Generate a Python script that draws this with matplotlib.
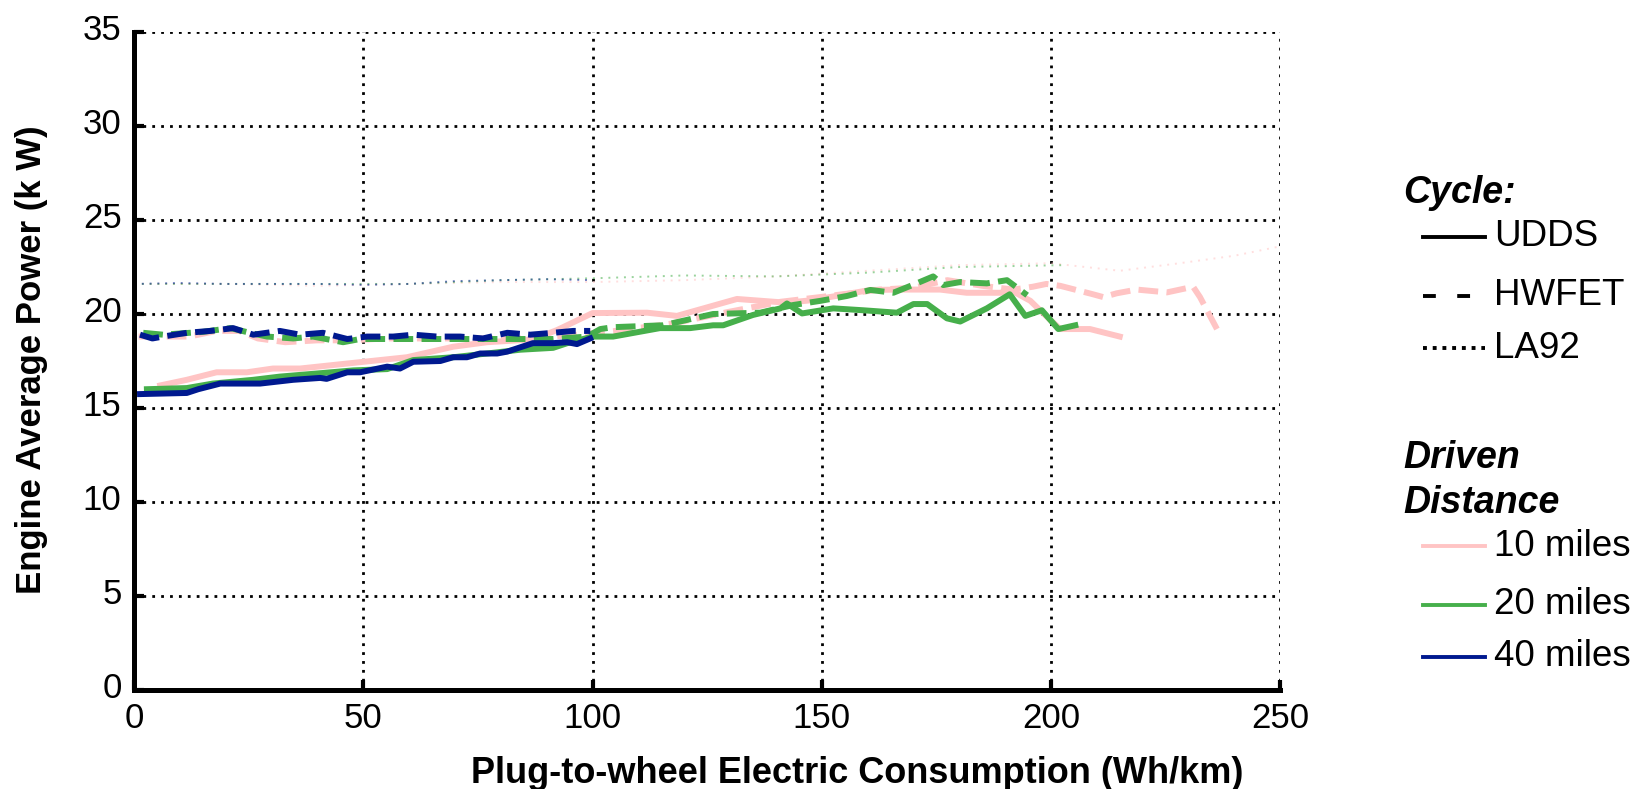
import matplotlib
matplotlib.use("Agg")
import matplotlib.pyplot as plt
import matplotlib.transforms as mtransforms
from matplotlib.lines import Line2D

plt.rcParams["font.family"] = ["Liberation Sans", "DejaVu Sans"]

# colours for driven distance
c10 = "#FFC4C4"
c20 = "#46AF4B"
c40 = "#00198F"

# 10 miles
udds10_x = [5.7, 11.5, 18, 24.6, 30.3, 36.2, 47.8, 59.5, 69.6, 77, 87, 92.3, 100, 111.9, 118.4,
            131.5, 142.4, 148, 160.6, 167.1, 175.8, 181.6, 189, 191, 195.5, 197.6, 202, 208.5, 215]
udds10_y = [16.2, 16.5, 16.9, 16.9, 17.1, 17.1, 17.4, 17.7, 18.26, 18.5, 18.65, 19.15, 20.05, 20.07, 19.9,
            20.8, 20.6, 20.74, 21.28, 21.3, 21.3, 21.13, 21.13, 21.3, 20.7, 20.2, 19.2, 19.2, 18.8]
hwfet10_x = [1, 12, 18, 23, 27, 33, 40, 47, 55, 65, 75, 85, 97, 105, 117.6, 129.4, 141, 150.3, 162.7,
             170, 177.4, 185, 191.8, 196, 199, 202, 209, 211.4, 214.3, 218.7, 225.3, 231, 232.5, 236.2]
hwfet10_y = [18.8, 18.8, 19.1, 19.1, 18.7, 18.5, 18.6, 18.6, 18.7, 18.7, 18.7, 18.7, 18.9, 19.1, 19.5,
             20.1, 20.65, 20.92, 21.3, 21.4, 21.8, 21.5, 21.3, 21.45, 21.6, 21.5, 21.06, 20.9, 21.1, 21.3,
             21.15, 21.45, 20.9, 19.2]
la92_10_x = [0, 20, 40, 60, 80, 100, 120, 140, 160, 180, 200, 215, 228, 240, 250]
la92_10_y = [21.6, 21.6, 21.5, 21.6, 21.7, 21.7, 21.8, 22.0, 22.3, 22.6, 22.7, 22.3, 22.7, 23.1, 23.6]

# 20 miles
udds20_x = [2.8, 11.5, 17.2, 26, 31.8, 40.6, 47.8, 55.2, 60.9, 69.6, 77, 84.2, 91.4, 94.5, 100, 104.5,
            114.7, 121.3, 126.3, 128.5, 135, 141, 142.4, 145.7, 152.5, 159, 166.4, 170, 173, 177.3,
            180.2, 186, 191, 194.4, 198, 201.6, 205.3]
udds20_y = [16.0, 16.06, 16.3, 16.5, 16.67, 16.85, 17.0, 17.07, 17.55, 17.7, 17.9, 18.1, 18.2, 18.45, 18.8,
            18.8, 19.25, 19.25, 19.4, 19.4, 19.95, 20.3, 20.56, 20.03, 20.3, 20.2, 20.07, 20.53, 20.53,
            19.77, 19.6, 20.3, 21.05, 19.9, 20.2, 19.2, 19.4]
hwfet20_x = [2, 6.3, 15, 21, 25.3, 29, 34.7, 39, 45.6, 49.3, 62.4, 77, 91.4, 98.8, 101.7, 104.5, 115.4,
             126.3, 136.6, 143.8, 149.7, 155.5, 160.6, 165.6, 170.7, 174.3, 176.5, 180.2, 186, 190.4, 194.8]
hwfet20_y = [19.0, 18.9, 19.05, 19.25, 19.0, 18.8, 18.7, 18.8, 18.5, 18.67, 18.67, 18.67, 18.67, 18.8, 19.2,
             19.3, 19.4, 20.0, 20.07, 20.48, 20.7, 20.96, 21.28, 21.13, 21.63, 22.0, 21.54, 21.7, 21.63,
             21.8, 21.0]
la92_20_x = [0, 20, 40, 60, 80, 100, 120, 140, 160, 180, 203]
la92_20_y = [21.6, 21.6, 21.6, 21.6, 21.8, 21.9, 22.05, 22.0, 22.2, 22.5, 22.6]

# 40 miles
udds40_x = [1.3, 11.5, 14, 18.8, 27.5, 34.7, 40.6, 42, 46.5, 49.3, 55.2, 58, 60.9, 66.8, 69.6, 72.6,
            75.5, 79.2, 81.4, 87, 91.4, 94.5, 96.6, 99.5]
udds40_y = [15.74, 15.8, 16.0, 16.3, 16.3, 16.5, 16.6, 16.55, 16.9, 16.9, 17.2, 17.1, 17.46, 17.5, 17.7,
            17.7, 17.9, 17.9, 18.0, 18.45, 18.45, 18.5, 18.4, 18.7]
hwfet40_x = [1.3, 4, 6.3, 11.5, 16.6, 21.6, 26, 31.8, 36.2, 41.2, 46.5, 50.8, 56.5, 60.9, 66.1, 71.1,
             76.1, 81.4, 86.4, 91.4, 95.8, 99.5]
hwfet40_y = [18.9, 18.7, 18.8, 19.0, 19.1, 19.25, 18.9, 19.1, 18.9, 19.0, 18.67, 18.8, 18.8, 18.9, 18.8,
             18.8, 18.7, 19.0, 18.9, 19.0, 19.1, 19.1]
la92_40_x = [0, 10, 20, 30, 40, 50, 60, 70, 80, 90, 100]
la92_40_y = [21.6, 21.65, 21.6, 21.6, 21.6, 21.55, 21.6, 21.75, 21.8, 21.85, 21.8]

fig = plt.figure(figsize=(16.39, 7.89), dpi=100)
ax = fig.add_axes([0.0818, 0.1255, 0.6993, 0.8339])

lw = 4.3
dash = (0, (3.3, 1.4))
dot = (0, (1, 3))
for c, ux, uy, hx, hy, lx, ly in [
    (c10, udds10_x, udds10_y, hwfet10_x, hwfet10_y, la92_10_x, la92_10_y),
    (c20, udds20_x, udds20_y, hwfet20_x, hwfet20_y, la92_20_x, la92_20_y),
    (c40, udds40_x, udds40_y, hwfet40_x, hwfet40_y, la92_40_x, la92_40_y),
]:
    ax.plot(lx, ly, color=c, lw=1.4, ls=dot, alpha=0.55)
    ax.plot(ux, uy, color=c, lw=lw)
    ax.plot(hx, hy, color=c, lw=lw, ls=dash)

ax.set_xlim(0, 250)
ax.set_ylim(0, 35)
ax.set_xticks(range(0, 251, 50))
ax.set_yticks(range(0, 36, 5))
ax.grid(True, color="black", ls=(0, (1, 2.2)), lw=2.0)
ax.set_axisbelow(True)
for s in ["top", "right"]:
    ax.spines[s].set_visible(False)
for s in ["left", "bottom"]:
    ax.spines[s].set_linewidth(3.6)
ax.tick_params(direction="in", length=7, width=3, pad=9)
for t in ax.get_xticklabels():
    t.set_fontsize(25)
shift = mtransforms.ScaledTranslation(0, 0.05, fig.dpi_scale_trans)
for t in ax.get_yticklabels():
    t.set_fontsize(25)
    t.set_transform(t.get_transform() + shift)

ax.set_xlabel("Plug-to-wheel Electric Consumption (Wh/km)", fontsize=26, fontweight="bold")
ax.xaxis.set_label_coords(0.631, -0.100)
ax.set_ylabel("Engine Average Power (k W)", fontsize=25, fontweight="bold")
ax.yaxis.set_label_coords(-0.075, 0.5015)

# legend drawn by hand on the right
W, H = 1639.0, 789.0
def fx(px):
    return px / W
def fy(py):
    return 1 - py / H

fig.text(fx(1403), fy(203), "Cycle:", fontsize=27, fontweight="bold", style="italic", va="baseline")
cyc = [("UDDS", "-", 237), ("HWFET", (0, (3.3, 5.5)), 296), ("LA92", (0, (1, 1.5)), 348)]
for lab, ls, py in cyc:
    fig.add_artist(Line2D([fx(1423), fx(1485)], [fy(py), fy(py)], color="black", lw=2.8, ls=ls))
    fig.text(fx(1494), fy(py), lab, fontsize=26.5, va="center")

fig.text(fx(1403), fy(468), "Driven", fontsize=27, fontweight="bold", style="italic", va="baseline")
fig.text(fx(1403), fy(513), "Distance", fontsize=27, fontweight="bold", style="italic", va="baseline")
dist = [("10 miles", c10, 546), ("20 miles", c20, 605), ("40 miles", c40, 657)]
for lab, c, py in dist:
    fig.add_artist(Line2D([fx(1423), fx(1485)], [fy(py), fy(py)], color=c, lw=2.8))
    fig.text(fx(1494), fy(py), lab, fontsize=26.5, va="center")

fig.savefig("out.png", dpi=100)
